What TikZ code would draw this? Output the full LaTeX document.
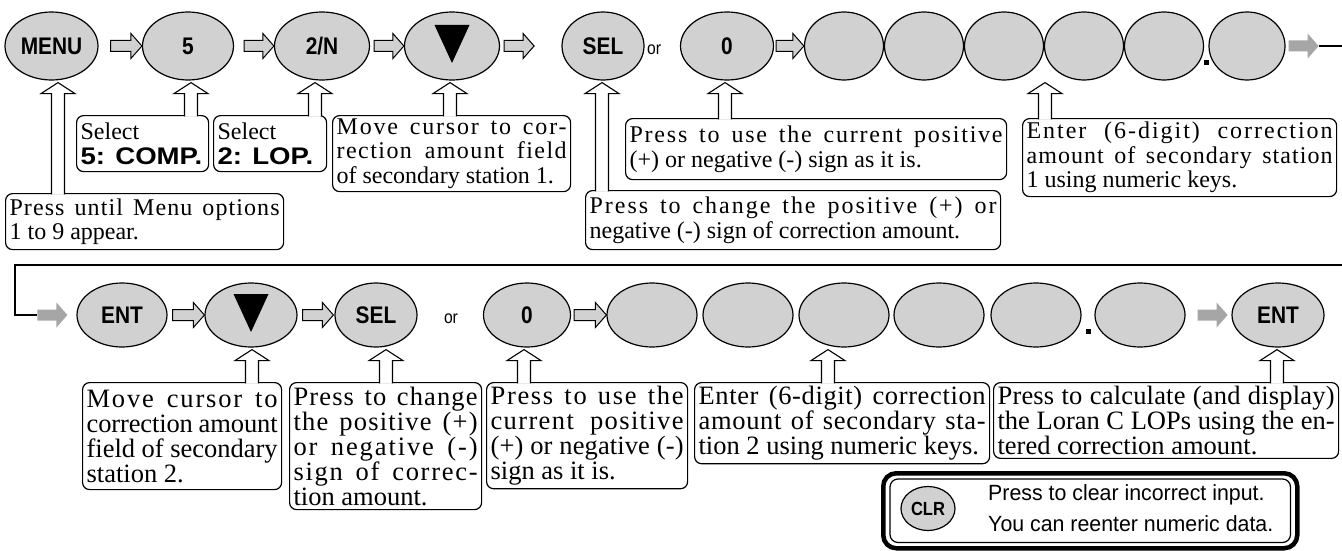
\documentclass[tikz,border=0pt]{standalone}
\usepackage{fontspec}
\setmainfont{Liberation Serif}
\newfontfamily\keyfont[FakeStretch=0.87]{Liberation Sans}
\newfontfamily\widesans[FakeStretch=1.15]{Liberation Sans}
\newfontfamily\clrsans[FakeStretch=0.97]{Liberation Sans}
\usetikzlibrary{shapes.geometric,calc}
\newsavebox\lnbox
\newlength\lnw
\newlength\lnwb
\newcommand\jl[1]{{\sbox\lnbox{\spaceskip=0pt\xspaceskip=0pt #1}\lnw=\wd\lnbox
  \ifdim\lnw>\hsize
    \pgfmathsetmacro\lnf{\hsize/\lnw}%
    \noindent\makebox[\hsize][s]{\addfontfeature{FakeStretch=\lnf}\spaceskip=0pt\xspaceskip=0pt #1}%
  \else
    \sbox\lnbox{\addfontfeature{LetterSpace=10}\spaceskip=0pt\xspaceskip=0pt #1}\lnwb=\wd\lnbox
    \pgfmathsetmacro\lsx{min(12,0.7*(\hsize-\lnw)/(\lnwb-\lnw+0.01pt)*10)}%
    \noindent\makebox[\hsize][s]{\addfontfeature{LetterSpace=\lsx}\spaceskip=0pt\xspaceskip=0pt #1}%
  \fi\par}}
\newcommand\el[1]{{\sbox\lnbox{\spaceskip=0pt\xspaceskip=0pt #1}\lnw=\wd\lnbox
  \ifdim\lnw>\hsize
    \pgfmathsetmacro\lnf{\hsize/\lnw}%
    \noindent\makebox[\hsize][s]{\addfontfeature{FakeStretch=\lnf}\spaceskip=0pt\xspaceskip=0pt #1}%
  \else\noindent\usebox\lnbox\fi\par}}
\newcommand\blockarrow[3][flowarrow]{\filldraw[#1] let \p1=(#2), \p2=(#3) in
  (\x1,\y2+5.5pt) -- (\x2-11pt,\y2+5.5pt) -- (\x2-11pt,\y2+12.5pt) -- (\x2,\y2) --
  (\x2-11pt,\y2-12.5pt) -- (\x2-11pt,\y2-5.5pt) -- (\x1,\y2-5.5pt) -- cycle;}
\newcommand\callout[3]{\filldraw[callarrow] let \p1=(#2.south), \p2=(#3.north) in
  (#1pt-6.5pt,\y2-1.3pt) -- (#1pt-6.5pt,\y1-13pt) -- (#1pt-17pt,\y1-13pt) --
  (#1pt,\y1-2pt) -- (#1pt+17pt,\y1-13pt) -- (#1pt+6.5pt,\y1-13pt) -- (#1pt+6.5pt,\y2-1.3pt);}
\begin{document}
\begin{tikzpicture}[x=1pt,y=-1pt,
  key/.style={ellipse, draw, line width=1.2pt, fill=black!18, inner sep=0pt,
    minimum width=92pt, minimum height=68pt, font=\keyfont\bfseries\fontsize{24}{24}\selectfont},
  key2/.style={key, minimum height=64pt},
  note/.style={draw, line width=1.2pt, rounded corners=7pt, anchor=north west,
    inner xsep=4pt, inner ysep=2pt, align=left, font=\fontsize{24}{24.5}\selectfont},
  note2/.style={note, inner ysep=3.5pt, font=\fontsize{26.5}{25}\selectfont},
  callarrow/.style={fill=white, draw=black, line width=1.1pt, line join=miter},
  flowarrow/.style={fill=black!18, draw=black, line width=1pt},
  shadearrow/.style={fill=black!35, draw=none},
  link/.style={line width=1.3pt},
  orlabel/.style={font=\keyfont\fontsize{18}{18}\selectfont, inner sep=0pt}]
\useasboundingbox[fill=white] (0,0) rectangle (1342,551);
% ---------------- Row 1 keys
\node[key, minimum width=93pt] (menu) at (51.5,46) {MENU};
\node[key, minimum width=91pt] (five) at (188,46) {5};
\node[key, minimum width=95pt] (twoN) at (322,46) {2/N};
\node[key, minimum width=95pt] (down1) at (452,46) {};
\fill ([shift={(-17.5,-21)}]down1.center) -- ++(35,0) -- ++(-17.5,38) -- cycle;
\node[key, minimum width=82pt] (sel1) at (603,46) {SEL};
\node[orlabel] (or1) at (654,50) {or};
\node[key, minimum width=93pt] (zero1) at (727,46) {0};
\node[key, minimum width=79pt] (b11) at (844,46) {};
\node[key, minimum width=79pt] (b12) at (924,46) {};
\node[key, minimum width=79pt] (b13) at (1004,46) {};
\node[key, minimum width=79pt] (b14) at (1084,46) {};
\node[key, minimum width=79pt] (b15) at (1164,46) {};
\node[fill, inner sep=0pt, minimum size=5pt] (dot1) at (1206,63) {};
\node[key, minimum width=76pt] (b16) at (1247,46) {};
\coordinate (r1end) at (1342,46);
% row 1 arrows
\blockarrow{$(menu.east)+(12,0)$}{five.west}
\blockarrow{$(five.east)+(10,0)$}{twoN.west}
\blockarrow{$(twoN.east)+(4,0)$}{down1.west}
\blockarrow{$(down1.east)+(4,0)$}{$(down1.east)+(34,0)$}
\blockarrow{$(zero1.east)+(2,0)$}{b11.west}
\blockarrow[shadearrow]{$(b16.east)+(3,0)$}{$(b16.east)+(33,0)$}
\draw[link] ($(b16.east)+(33,0)$) -- (r1end);
% row 1 notes
\node[note, text width=270pt, minimum height=56pt] (tmenu) at (5,193)
  {\jl{Press until Menu options}\el{1 to 9 appear.}};
\node[note, text width=124pt, minimum height=56pt] (t5) at (76,115)
  {\el{Select}\el{\widesans\bfseries 5: COMP.}};
\node[note, text width=105pt, minimum height=56pt] (t2n) at (213,115)
  {\el{Select}\el{\widesans\bfseries 2: LOP.}};
\node[note, text width=230pt, minimum height=76pt] (tdn) at (332,115)
  {\jl{Move cursor to cor-}\jl{rection amount field}\el{of secondary station 1.}};
\node[note, text width=373pt, minimum height=61pt] (tzero) at (625,118)
  {\jl{Press to use the current positive}\el{(+) or negative (-) sign as it is.}};
\node[note, text width=306pt, minimum height=78pt] (tb) at (1022,118)
  {\jl{Enter (6-digit) correction}\jl{amount of secondary station}\el{1 using numeric keys.}};
\node[note, text width=407pt, minimum height=59pt] (tsel) at (585,190)
  {\jl{Press to change the positive (+) or}\el{negative (-) sign of correction amount.}};
% row 1 callouts
\callout{58}{menu}{tmenu}
\callout{191}{five}{t5}
\callout{315}{twoN}{t2n}
\callout{450}{down1}{tdn}
\callout{602}{sel1}{tsel}
\callout{725}{zero1}{tzero}
\callout{1045}{b13}{tb}
% ---------------- wrap line
\coordinate (r2start) at (1342,265);
\coordinate (r2corner) at (15,265);
\coordinate (r2down) at (15,315);
% ---------------- Row 2 keys
\node[key2, minimum width=90pt] (ent2) at (122,315) {ENT};
\node[key2, minimum width=92pt] (down2) at (251,315) {};
\fill ([shift={(-17.5,-21)}]down2.center) -- ++(35,0) -- ++(-17.5,38) -- cycle;
\node[key2, minimum width=82pt] (sel2) at (376,315) {SEL};
\node[orlabel] (or2) at (451,319) {or};
\node[key2, minimum width=87pt] (zero2) at (527,315) {0};
\node[key2, minimum width=90pt] (b21) at (652,315) {};
\node[key2, minimum width=90pt] (b22) at (748,315) {};
\node[key2, minimum width=90pt] (b23) at (844,315) {};
\node[key2, minimum width=90pt] (b24) at (939,315) {};
\node[key2, minimum width=90pt] (b25) at (1036,315) {};
\node[fill, inner sep=0pt, minimum size=5pt] (dot2) at (1088,331) {};
\node[key2, minimum width=90pt] (b26) at (1140,315) {};
\node[key2, minimum width=92pt] (ent3) at (1278,315) {ENT};
\draw[link] (r2start) -- (r2corner) -- (r2down) -- ($(ent2.west)+(-39,0)$);
\blockarrow[shadearrow]{$(ent2.west)+(-39,0)$}{$(ent2.west)+(-9,0)$}
\blockarrow{$(ent2.east)+(5,0)$}{down2.west}
\blockarrow{$(down2.east)+(5,0)$}{$(sel2.west)+(-1,0)$}
\blockarrow{$(zero2.east)+(3,0)$}{b21.west}
\blockarrow[shadearrow]{$(b26.east)+(12,0)$}{$(b26.east)+(42,0)$}
% row 2 notes
\node[note2, text width=191pt, minimum height=107pt] (m1) at (82,382)
  {\jl{Move cursor to}\jl{correction amount}\jl{field of secondary}\el{station 2.}};
\node[note2, text width=184pt, minimum height=127pt] (m2) at (289,382)
  {\jl{Press to change}\jl{the positive (+)}\jl{or negative (-)}\jl{sign of correc-}\el{tion amount.}};
\node[note2, text width=193pt, minimum height=100pt] (m3) at (486,382)
  {\jl{Press to use the}\jl{current positive}\jl{(+) or negative (-)}\el{sign as it is.}};
\node[note2, text width=287pt, minimum height=74pt] (m4) at (694,382)
  {\jl{Enter (6-digit) correction}\jl{amount of secondary sta-}\el{tion 2 using numeric keys.}};
\node[note2, text width=337pt, minimum height=74pt] (m5) at (993,382)
  {\jl{Press to calculate (and display)}\jl{the Loran C LOPs using the en-}\el{tered correction amount.}};
% row 2 callouts
\callout{252}{down2}{m1}
\callout{386}{sel2}{m2}
\callout{524}{zero2}{m3}
\callout{828}{b23}{m4}
\callout{1277}{ent3}{m5}
% ---------------- CLR box
\node[draw, line width=4.5pt, rounded corners=13pt, minimum width=414pt, minimum height=75pt,
  anchor=north west, inner sep=0pt] (clrbox) at (881,471) {};
\draw[line width=1.2pt, rounded corners=8pt] ($(clrbox.north west)+(9,8)$) rectangle ($(clrbox.south east)+(-9,-8)$);
\node[key, minimum width=54pt, minimum height=44pt, font=\keyfont\bfseries\fontsize{19}{19}\selectfont] (clr) at (928,508.5) {CLR};
\node[anchor=west, align=left, inner sep=0pt, font=\clrsans\fontsize{22}{31}\selectfont] (clrtxt) at (988,508.5)
  {Press to clear incorrect input.\\You can reenter numeric data.};
\end{tikzpicture}
\end{document}
